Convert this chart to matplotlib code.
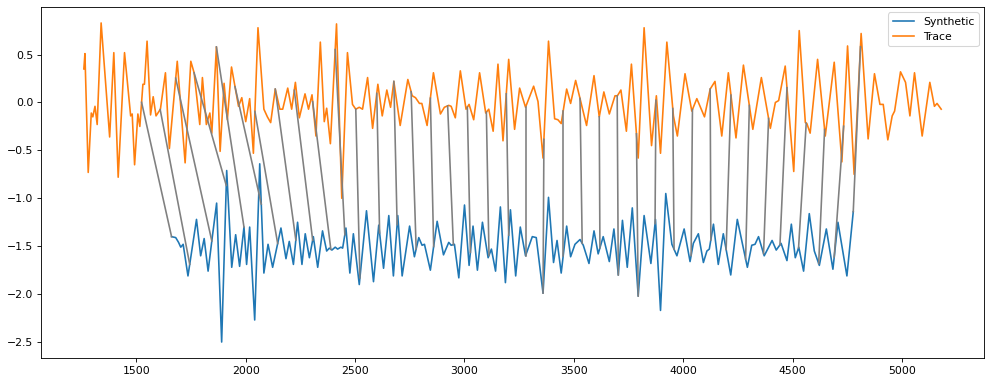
import numpy as np
import matplotlib
matplotlib.use("Agg")
import matplotlib.pyplot as plt

# Trace (orange) — samples
trace_x = [1260, 1265, 1280, 1294, 1301, 1311, 1321, 1339, 1378, 1397, 1417, 1446, 1474, 1481,
           1492, 1507, 1516, 1530, 1537, 1549, 1565, 1577, 1590, 1610, 1633, 1651, 1687, 1723,
           1749, 1764, 1790, 1802, 1820, 1836, 1845, 1866, 1883, 1901, 1916, 1935, 1967, 1982,
           2000, 2018, 2035, 2056, 2083, 2099, 2114, 2135, 2156, 2169, 2192, 2210, 2227, 2245,
           2271, 2287, 2303, 2321, 2341, 2359, 2370, 2387, 2415, 2439, 2465, 2488, 2503, 2519,
           2534, 2557, 2580, 2604, 2624, 2645, 2662, 2677, 2706, 2741, 2761, 2776, 2794, 2805,
           2829, 2858, 2890, 2908, 2928, 2939, 2958, 2981, 3007, 3021, 3042, 3069, 3097, 3111,
           3131, 3153, 3176, 3202, 3229, 3252, 3279, 3316, 3336, 3359, 3384, 3412, 3427, 3442,
           3467, 3485, 3508, 3558, 3592, 3616, 3637, 3662, 3688, 3699, 3715, 3740, 3763, 3794,
           3821, 3855, 3877, 3896, 3925, 3955, 3973, 4008, 4039, 4062, 4097, 4123, 4145, 4176,
           4206, 4241, 4275, 4318, 4357, 4398, 4421, 4436, 4466, 4505, 4530, 4558, 4565, 4580,
           4614, 4649, 4690, 4725, 4751, 4781, 4813, 4845, 4874, 4899, 4914, 4935, 4955, 4966,
           4993, 5016, 5036, 5057, 5092, 5127, 5148, 5160, 5179]
trace_y = [0.35, 0.51, -0.73, -0.11, -0.15, -0.04, -0.23, 0.83, -0.36, 0.52, -0.78, 0.52, -0.14, -0.12,
           -0.65, -0.12, -0.25, 0.19, 0.19, 0.64, -0.13, 0.06, -0.14, -0.07, 0.31, -0.48, 0.43, -0.63,
           0.43, 0.31, -0.23, 0.26, -0.23, -0.11, -0.32, 0.58, -0.51, 0.20, -0.18, 0.37, -0.04, 0.05,
           -0.20, 0.04, -0.53, 0.78, -0.07, -0.15, -0.21, 0.14, -0.07, -0.07, 0.15, -0.07, 0.21, -0.16,
           0.09, -0.07, 0.08, -0.35, 0.63, -0.20, -0.06, -0.43, 0.82, -1.00, 0.52, -0.02, -0.07, -0.05,
           -0.07, 0.26, -0.27, 0.19, -0.14, 0.13, -0.05, 0.22, -0.24, 0.24, 0.07, 0.05, -0.01, -0.01,
           -0.24, 0.31, -0.12, -0.05, -0.03, -0.04, -0.16, 0.33, -0.07, -0.02, -0.18, 0.31, -0.11, -0.07,
           -0.30, 0.40, -0.40, 0.45, -0.28, 0.15, -0.05, 0.17, 0.01, -0.58, 0.64, -0.17, -0.18, -0.22,
           0.14, -0.01, 0.23, -0.24, 0.28, -0.15, 0.11, -0.12, 0.07, 0.07, 0.13, -0.30, 0.40, -0.58,
           0.78, -0.45, 0.07, -0.53, 0.63, -0.14, -0.35, 0.30, -0.09, 0.04, -0.15, 0.14, 0.22, -0.35,
           0.31, -0.37, 0.39, -0.28, 0.26, -0.27, 0.00, 0.02, 0.38, -0.72, 0.75, -0.21, -0.22, -0.32,
           0.45, -0.35, 0.42, -0.62, 0.59, -0.75, 0.72, -0.38, 0.30, -0.02, -0.02, -0.39, -0.14, -0.09,
           0.32, 0.21, -0.14, 0.31, -0.35, 0.21, -0.04, -0.01, -0.07]

# Synthetic (blue)
synth_x = [1661, 1680, 1693, 1703, 1714, 1736, 1775, 1794, 1810, 1828, 1848, 1867, 1890, 1913,
           1936, 1954, 1972, 1992, 2004, 2018, 2041, 2064, 2083, 2102, 2123, 2161, 2184, 2199,
           2218, 2237, 2257, 2272, 2291, 2309, 2329, 2351, 2370, 2382, 2394, 2409, 2420, 2435,
           2443, 2458, 2476, 2492, 2519, 2552, 2584, 2608, 2630, 2654, 2675, 2695, 2715, 2749,
           2771, 2791, 2806, 2817, 2844, 2875, 2904, 2928, 2939, 2954, 2974, 3000, 3021, 3039,
           3059, 3082, 3108, 3123, 3142, 3164, 3187, 3210, 3234, 3255, 3279, 3310, 3328, 3359,
           3384, 3407, 3423, 3442, 3467, 3485, 3505, 3528, 3543, 3569, 3592, 3611, 3634, 3662,
           3683, 3703, 3722, 3744, 3767, 3794, 3821, 3852, 3873, 3896, 3920, 3948, 3971, 4004,
           4031, 4046, 4069, 4092, 4108, 4119, 4138, 4160, 4183, 4217, 4247, 4293, 4313, 4328,
           4344, 4370, 4406, 4425, 4447, 4474, 4494, 4512, 4528, 4550, 4576, 4599, 4622, 4654,
           4684, 4707, 4748, 4777]
synth_y = [-1.40, -1.41, -1.46, -1.51, -1.48, -1.81, -1.22, -1.60, -1.42, -1.76, -1.39, -1.05, -2.50, -0.71,
           -1.72, -1.38, -1.71, -1.30, -1.69, -1.30, -2.27, -0.64, -1.78, -1.48, -1.72, -1.31, -1.63, -1.45,
           -1.69, -1.25, -1.69, -1.37, -1.62, -1.40, -1.72, -1.34, -1.55, -1.52, -1.54, -1.51, -1.53, -1.51,
           -1.52, -1.31, -1.78, -1.37, -1.90, -1.13, -1.87, -1.28, -1.73, -1.18, -1.81, -1.18, -1.81, -1.29,
           -1.61, -1.41, -1.49, -1.48, -1.75, -1.24, -1.59, -1.46, -1.49, -1.48, -1.83, -1.07, -1.70, -1.29,
           -1.75, -1.25, -1.62, -1.53, -1.76, -1.09, -1.88, -1.12, -1.81, -1.30, -1.60, -1.40, -1.41, -1.99,
           -0.99, -1.67, -1.44, -1.78, -1.29, -1.61, -1.48, -1.43, -1.49, -1.68, -1.34, -1.58, -1.40, -1.66,
           -1.32, -1.80, -1.23, -1.72, -1.10, -2.02, -1.18, -1.68, -1.22, -2.17, -0.95, -1.48, -1.60, -1.32,
           -1.66, -1.47, -1.37, -1.67, -1.55, -1.53, -1.27, -1.69, -1.37, -1.80, -1.22, -1.72, -1.49, -1.48,
           -1.40, -1.60, -1.44, -1.54, -1.47, -1.65, -1.27, -1.62, -1.51, -1.76, -1.16, -1.55, -1.70, -1.32,
           -1.74, -1.25, -1.81, -1.14]

# Tie (alignment) pairs: position on trace -> matched position on synthetic
tie_trace_x = [1524, 1609, 1680, 1764, 1866, 1951, 2042, 2135, 2222, 2306, 2409, 2503, 2599,
               2677, 2756, 2844, 2923, 3013, 3100, 3191, 3279, 3363, 3451, 3528, 3616, 3698,
               3786, 3875, 3952, 4042, 4123, 4218, 4302, 4390, 4474, 4562, 4646, 4733, 4810]
tie_synth_x = [1661, 1744, 1845, 1911, 1992, 2071, 2146, 2229, 2306, 2389, 2453, 2522, 2612,
               2692, 2779, 2859, 2949, 3027, 3112, 3202, 3279, 3359, 3451, 3538, 3619, 3703,
               3794, 3871, 3958, 4036, 4126, 4196, 4285, 4367, 4442, 4527, 4619, 4690, 4777]

DPI = 78
fig = plt.figure(figsize=(992 / DPI, 384 / DPI), dpi=DPI)
ax = fig.add_axes([0.0413, 0.0677, 0.9507, 0.9141])

ax.plot(synth_x, synth_y, color="tab:blue", label="Synthetic", lw=1.5)
ax.plot(trace_x, trace_y, color="tab:orange", label="Trace", lw=1.5)

ty = np.interp(tie_trace_x, trace_x, trace_y)
sy = np.interp(tie_synth_x, synth_x, synth_y)
for xt, yt, xs, ys in zip(tie_trace_x, ty, tie_synth_x, sy):
    ax.plot([xt, xs], [yt, ys], color="gray", lw=1.5)

ax.set_xticks([1500, 2000, 2500, 3000, 3500, 4000, 4500, 5000])
ax.legend(loc="upper right")

fig.savefig("out.png", dpi=DPI)
